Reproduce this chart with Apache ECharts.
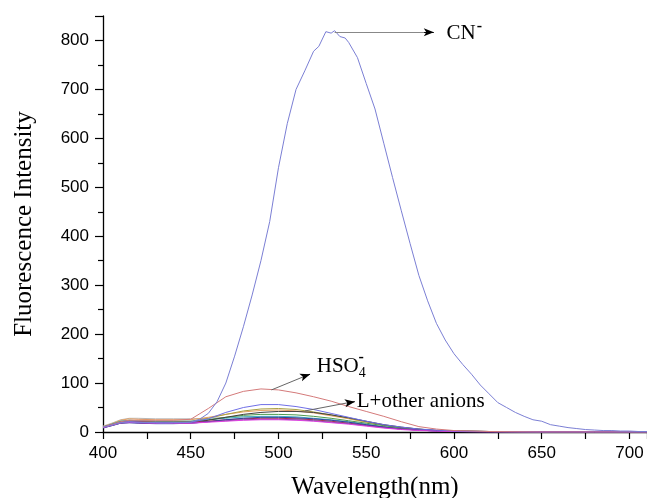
<!DOCTYPE html>
<html>
<head>
<meta charset="utf-8">
<script src="https://cdn.jsdelivr.net/npm/echarts@6/dist/echarts.min.js"></script>
<style>html,body{margin:0;padding:0;background:#fff}#c{width:647px;height:498px}</style>
</head>
<body>
<div id="c"></div>
<script>
// ---- data ----
const wlS = [400,405,410,415,420,430,440,450,460,470,480,490,500,510,520,530,540,550,560,570,580,590,600,620,650,680,710];
const wlC = [400,405,410,415,420,425,430,435,440,445,450,455,460,465,470,475,480,485,490,495,500,505,510,515,520,523,527,530,532,535,538,540,545,550,555,560,565,570,575,580,585,590,595,600,605,610,615,620,625,630,635,640,645,650,655,660,665,670,675,680,685,690,695,700,705,710];
const cnVals = [10,14,19,21,20,19,19,18,19,19,20,26,38,62,100,155,215,280,350,430,540,630,700,738,778,788,818,815,820,808,805,796,765,712,660,590,520,452,385,320,268,222,188,160,138,118,96,78,60,50,40,32,25,22,15,12,9,7,5,4,3,3,2,2,1,1];
const hso4Vals = [10,15,21,24,24,24,24,26,48,72,83,88,86,80,72,63,52,42,32,21,11,6,3,1,0,0,0];
const otherA = [10,15,20,21,20,19,19,20,27,40,50,56,56,52,46,38,30,22,15,10,6,4,2,1,0,0,0];
const otherB = [10,16,22,24,23,22,22,22,28,36,43,47,48,46,41,35,28,21,14,9,6,3,2,1,0,0,0];
const otherC = [11,17,24,27,26,25,25,25,30,36,41,44,45,43,39,33,27,20,14,9,5,3,2,1,0,0,0];
const otherD = [9,14,19,20,19,18,18,19,24,30,36,40,42,42,40,35,29,22,15,10,6,3,2,1,0,0,0];
const otherE = [10,15,21,22,21,20,20,21,25,30,34,36,36,35,32,28,23,18,13,8,5,3,2,1,0,0,0];
const otherF = [10,16,22,24,23,22,22,22,25,28,31,32,32,31,28,25,21,16,11,7,4,2,1,1,0,0,0];
const otherG = [12,18,25,28,28,27,27,27,28,30,31,31,30,28,25,22,18,14,10,6,4,2,1,1,0,0,0];
const otherH = [9,14,19,20,19,18,18,18,20,22,24,25,25,24,22,19,16,12,8,5,3,2,1,0,0,0,0];
const otherI = [9,13,18,19,19,18,18,18,21,23,25,26,26,25,23,20,17,13,9,6,4,2,1,0,0,0,0];
const otherJ = [10,15,20,22,21,20,20,20,22,25,27,28,28,27,25,22,18,14,10,6,4,2,1,1,0,0,0];
const otherK = [8,13,18,19,18,17,17,18,21,25,28,30,30,29,27,24,20,15,10,6,4,2,1,0,0,0,0];
const others = [otherG, otherC, otherB, otherF, otherE, otherD, otherJ, otherK, otherI, otherH, otherA];
const otherColors = ['#b8b8b8','#e8a060','#a8a040','#40b0c0','#4c9a4c','#404040','#b03050','#3040a0','#7040a0','#e040e0','#6f6fe6'];
const xTicks = [400,450,500,550,600,650,700];
const yTicks = [0,100,200,300,400,500,600,700,800];

const pair = (xs, ys) => xs.map((x, i) => [x, ys[i]]);
const serif = 'Liberation Serif';
const sans = 'Liberation Sans';

const series = others.map((v, i) => ({
  type: 'line', data: pair(wlS, v), showSymbol: false, symbol: 'none',
  lineStyle: { width: 1, color: otherColors[i] }, z: 2
}));

series.push({
  type: 'line', data: pair(wlS, hso4Vals), symbol: 'none',
  lineStyle: { width: 1, color: '#d47a7a' }, z: 3,
  markLine: {
    silent: true, animation: false, label: { show: false },
    data: [
      [{ coord: [496, 86], symbol: 'none', lineStyle: { color: '#666', width: 1, type: 'solid' } },
       { coord: [515, 114], symbol: 'none' }],
      [{ coord: [514, 113], symbol: 'none', lineStyle: { color: '#000', width: 1, type: 'solid' } },
       { coord: [518, 118], symbol: 'arrow', symbolSize: [6, 10] }],
      [{ coord: [515, 43], symbol: 'none', lineStyle: { color: '#666', width: 1, type: 'solid' } },
       { coord: [540, 60], symbol: 'none' }],
      [{ coord: [539, 59.5], symbol: 'none', lineStyle: { color: '#000', width: 1, type: 'solid' } },
       { coord: [543.5, 62], symbol: 'arrow', symbolSize: [6, 10] }]
    ]
  },
  markPoint: {
    silent: true, animation: false, symbol: 'circle', symbolSize: 0,
    data: [
      { coord: [521.8, 133], label: { show: true, position: 'right', distance: 0,
        formatter: '{m|HSO}{s|4}', rich: {
          m: { fontFamily: serif, fontSize: 21, color: '#000' },
          s: { fontFamily: serif, fontSize: 14, color: '#000', padding: [12, 0, 0, 0] } } } },
      { coord: [545.6, 152], label: { show: true, position: 'right', distance: 0,
        formatter: '-', fontFamily: serif, fontSize: 16, fontWeight: 'bold', color: '#000' } },
      { coord: [544.6, 62], label: { show: true, position: 'right', distance: 0,
        formatter: 'L+other anions', fontFamily: serif, fontSize: 21, color: '#000' } }
    ]
  }
});

series.push({
  type: 'line', data: pair(wlC, cnVals), symbol: 'none',
  lineStyle: { width: 1, color: '#7b7fd4' }, z: 4,
  markLine: {
    silent: true, animation: false, label: { show: false },
    data: [
      [{ coord: [532, 817], symbol: 'none', lineStyle: { color: '#888', width: 1.2, type: 'solid' } },
       { coord: [584, 817], symbol: 'none' }],
      [{ coord: [583, 817], symbol: 'none', lineStyle: { color: '#000', width: 1, type: 'solid' } },
       { coord: [588.5, 817], symbol: 'arrow', symbolSize: [6, 10] }]
    ]
  },
  markPoint: {
    silent: true, animation: false, symbol: 'circle', symbolSize: 0,
    data: [
      { coord: [595.8, 815], label: { show: true, position: 'right', distance: 0,
        formatter: '{m|CN}{s|-}', rich: {
          m: { fontFamily: serif, fontSize: 21, color: '#000' },
          s: { fontFamily: serif, fontSize: 16, fontWeight: 'bold', color: '#000', padding: [0, 0, 12, 1] } } } }
    ]
  }
});

const chart = echarts.init(document.getElementById('c'), null, { renderer: 'canvas' });
chart.setOption({
  animation: false,
  backgroundColor: '#fff',
  grid: { left: 103, right: 0, top: 16, bottom: 66, containLabel: false, outerBoundsMode: 'none' },
  xAxis: {
    type: 'value', min: 400, max: 710, interval: 50,
    name: 'Wavelength(nm)', nameLocation: 'middle', nameGap: 43,
    nameTextStyle: { fontFamily: serif, fontSize: 25, color: '#000' },
    axisLine: { show: true, onZero: false, lineStyle: { color: '#000', width: 1.3 } },
    axisTick: { show: true, inside: false, length: 7, lineStyle: { color: '#000', width: 1.2 } },
    minorTick: { show: true, splitNumber: 2, length: 7, lineStyle: { color: '#000', width: 1.2 } },
    splitLine: { show: false },
    axisLabel: { fontFamily: sans, fontSize: 17, color: '#000', margin: 13,
      formatter: v => xTicks.includes(v) ? String(v) : '' }
  },
  yAxis: {
    type: 'value', min: 0, max: 850, interval: 100,
    name: 'Fluorescence Intensity', nameLocation: 'middle', nameGap: 66,
    nameTextStyle: { fontFamily: serif, fontSize: 25, color: '#000' },
    axisLine: { show: true, lineStyle: { color: '#000', width: 1.3 } },
    axisTick: { show: true, inside: false, length: 8, lineStyle: { color: '#000', width: 1.2 } },
    minorTick: { show: true, splitNumber: 2, length: 5, lineStyle: { color: '#000', width: 1.2 } },
    splitLine: { show: false },
    axisLabel: { fontFamily: sans, fontSize: 17, color: '#000', margin: 14,
      formatter: v => yTicks.includes(v) ? String(v) : '' }
  },
  series: series
});
</script>
</body>
</html>
